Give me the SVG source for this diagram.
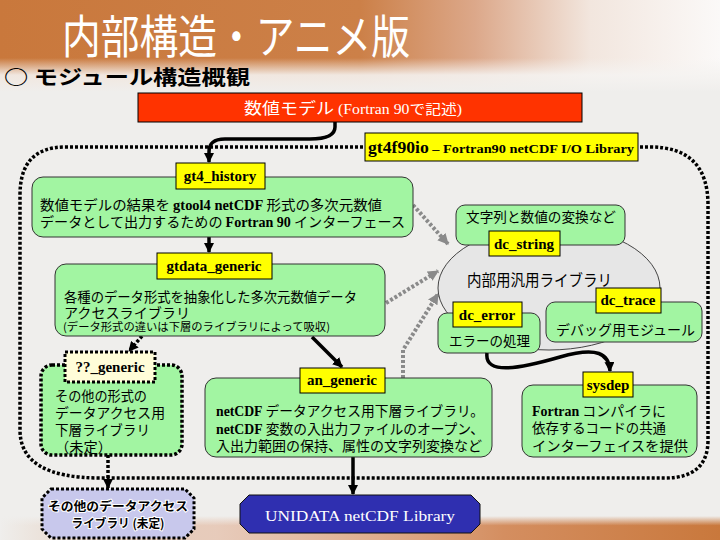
<svg xmlns="http://www.w3.org/2000/svg" width="720" height="540" viewBox="0 0 720 540">
<defs>
<linearGradient id="hdr" x1="0" y1="0" x2="1" y2="0">
<stop offset="0" stop-color="#c9783c"/>
<stop offset="0.5" stop-color="#cc8048"/>
<stop offset="0.66" stop-color="#dca88a"/>
<stop offset="0.82" stop-color="#f2e6de"/>
<stop offset="1" stop-color="#fbf9f8"/>
</linearGradient>
<linearGradient id="hdrfade" x1="0" y1="0" x2="0" y2="1">
<stop offset="0" stop-color="#f5f3f1" stop-opacity="0"/>
<stop offset="0.5" stop-color="#f5f3f1" stop-opacity="0.9"/>
<stop offset="1" stop-color="#efeeec" stop-opacity="1"/>
</linearGradient>
<linearGradient id="ftr" x1="0" y1="0" x2="1" y2="0">
<stop offset="0" stop-color="#cc8048" stop-opacity="0"/>
<stop offset="0.3" stop-color="#e2b49a" stop-opacity="0.6"/>
<stop offset="0.7" stop-color="#d48e60"/>
<stop offset="1" stop-color="#c9783c"/>
</linearGradient>
<linearGradient id="ftrfade" x1="0" y1="0" x2="0" y2="1">
<stop offset="0" stop-color="#efeeec" stop-opacity="1"/>
<stop offset="0.4" stop-color="#efeeec" stop-opacity="0"/>
</linearGradient>
<marker id="ab" viewBox="0 0 10 10" refX="9" refY="5" markerWidth="10" markerHeight="10" markerUnits="userSpaceOnUse" orient="auto">
<path d="M0,0 L10,5 L0,10 z" fill="#000"/>
</marker>
<marker id="ag" viewBox="0 0 10 10" refX="9" refY="5" markerWidth="11" markerHeight="11" markerUnits="userSpaceOnUse" orient="auto">
<path d="M0,0 L10,5 L0,10 z" fill="#8a8a8a"/>
</marker>
</defs>
<style>
.jp{font-family:"Noto Sans CJK JP","Noto Sans CJK SC",sans-serif;}
.lat{font-family:"Liberation Serif","Times New Roman",serif;font-weight:bold;}
.box{fill:#a2f5a2;stroke:#333;stroke-width:1;}
.lbl{fill:#ffff00;stroke:#000;stroke-width:1;}
.lt{font-family:"Liberation Serif",serif;font-weight:bold;font-size:15px;text-anchor:middle;fill:#000;}
.t{font-size:14px;fill:#000;}
.thick{fill:none;stroke:#000;stroke-width:3.5;}
.dot{fill:none;stroke:#000;stroke-width:3.5;stroke-dasharray:3 2;}
.grey{fill:none;stroke:#8a8a8a;stroke-width:4;stroke-dasharray:3 2;}
</style>
<rect x="0" y="0" width="720" height="540" fill="#efeeec"/>
<rect x="0" y="0" width="720" height="92" fill="url(#hdr)"/>
<rect x="0" y="58" width="720" height="34" fill="url(#hdrfade)"/>
<rect x="0" y="516" width="720" height="24" fill="url(#ftr)"/>
<rect x="0" y="516" width="720" height="24" fill="url(#ftrfade)"/>
<text class="jp" x="62" y="53" font-size="46" fill="#fff" textLength="348" lengthAdjust="spacingAndGlyphs">内部構造・アニメ版</text>
<text class="jp" x="4" y="85" font-size="20" font-weight="bold" fill="#000" textLength="246" lengthAdjust="spacingAndGlyphs">○ モジュール構造概観</text>

<g id="boundary">
<path class="dot" d="M65,147 H650 Q708,147 708,205 V440 Q708,478 665,478 H100 Q20,478 20,430 V195 Q20,147 65,147 Z"/>
</g>

<g id="connectors">
<path class="thick" d="M335,122 L335,127 C335,136 326,139 310,139 L225,139 C212,139 209,145 209,152 L209,162" marker-end="url(#ab)"/>
<path class="thick" d="M209,237 L209,252" marker-end="url(#ab)"/>
<path class="dot" d="M142,336 L129,351" marker-end="url(#ab)"/>
<path class="thick" d="M312,337 L342,367" marker-end="url(#ab)"/>
<path class="thick" d="M353,457 L353,494" marker-end="url(#ab)"/>
<path class="dot" d="M108,455 L108,488" marker-end="url(#ab)"/>
<path class="grey" d="M413,205 L448,244" marker-end="url(#ag)"/>
<path class="grey" d="M386,303 L438,271" marker-end="url(#ag)"/>
<path class="grey" d="M403,378 L403,350 L438,294" marker-end="url(#ag)"/>
</g>

<g id="model">
<rect x="138" y="93" width="444" height="29" fill="#ff3300" stroke="#000" stroke-width="1"/>
<text x="353" y="114" text-anchor="middle" fill="#fff" textLength="218" lengthAdjust="spacingAndGlyphs"><tspan class="jp" font-size="16">数値モデル</tspan><tspan font-family="Liberation Serif, serif" font-size="14"> (Fortran 90</tspan><tspan class="jp" font-size="14">で記述</tspan><tspan font-family="Liberation Serif, serif" font-size="14">)</tspan></text>
</g>

<g id="gt4f90io">
<rect class="lbl" x="365" y="133" width="273" height="28"/>
<text class="lat" x="368" y="153" textLength="266" lengthAdjust="spacingAndGlyphs"><tspan font-size="16">gt4f90io</tspan><tspan font-size="13"> – Fortran90 netCDF I/O Library</tspan></text>
</g>

<g id="gt4_history">
<rect class="box" x="32" y="177" width="381" height="60" rx="11"/>
<rect class="lbl" x="176" y="163" width="89" height="26"/>
<text class="lt" x="220" y="181">gt4_history</text>
<text class="t jp" x="40" y="210" textLength="342" lengthAdjust="spacingAndGlyphs">数値モデルの結果を <tspan class="lat">gtool4 netCDF</tspan> 形式の多次元数値</text>
<text class="t jp" x="40" y="227" textLength="365" lengthAdjust="spacingAndGlyphs">データとして出力するための <tspan class="lat">Fortran 90</tspan> インターフェース</text>
</g>

<g id="internal">
<ellipse cx="549" cy="288" rx="111" ry="62" fill="#e6e6e6" stroke="#444" stroke-width="1"/>
<text class="jp" x="467" y="286" font-size="16" textLength="145" lengthAdjust="spacingAndGlyphs">内部用汎用ライブラリ</text>
</g>

<g id="dc_string">
<rect class="box" x="456" y="205" width="169" height="40" rx="9"/>
<text class="t jp" x="466" y="222" textLength="150" lengthAdjust="spacingAndGlyphs">文字列と数値の変換など</text>
<rect class="lbl" x="489" y="231" width="71" height="25"/>
<text class="lt" x="524" y="249" font-size="14">dc_string</text>
</g>

<g id="dc_trace">
<rect class="box" x="546" y="302" width="156" height="40" rx="9"/>
<rect class="lbl" x="596" y="288" width="65" height="25"/>
<text class="lt" x="628" y="305" font-size="14">dc_trace</text>
<text class="t jp" x="556" y="335" textLength="139" lengthAdjust="spacingAndGlyphs">デバッグ用モジュール</text>
</g>

<g id="dc_error">
<rect class="box" x="438" y="313" width="102" height="40" rx="9"/>
<rect class="lbl" x="453" y="302" width="69" height="25"/>
<text class="lt" x="487" y="320" font-size="14">dc_error</text>
<text class="t jp" x="449" y="346" textLength="81" lengthAdjust="spacingAndGlyphs">エラーの処理</text>
</g>

<g id="dc_link">
<path class="thick" d="M487,353 C484,376 522,368 560,357 C598,346 609,354 610,371" marker-end="url(#ab)"/>
</g>

<g id="gtdata_generic">
<rect class="box" x="55" y="264" width="330" height="72" rx="11"/>
<rect class="lbl" x="157" y="253" width="115" height="26"/>
<text class="lt" x="214" y="271">gtdata_generic</text>
<text class="t jp" x="64" y="302" textLength="293" lengthAdjust="spacingAndGlyphs">各種のデータ形式を抽象化した多次元数値データ</text>
<text class="t jp" x="64" y="318" textLength="126" lengthAdjust="spacingAndGlyphs">アクセスライブラリ</text>
<text class="jp" x="63" y="331" font-size="11" textLength="267" lengthAdjust="spacingAndGlyphs">(データ形式の違いは下層のライブラリによって吸収)</text>
</g>

<g id="other_generic">
<rect class="dot" x="41" y="365" width="141" height="90" rx="11" style="fill:#a2f5a2"/>
<rect x="65" y="352" width="90" height="30" fill="#fffdd8" stroke="#000" stroke-width="3" stroke-dasharray="3 2"/>
<text class="lt" x="110" y="372">??_generic</text>
<text class="t jp" x="55" y="401" textLength="92" lengthAdjust="spacingAndGlyphs">その他の形式の</text>
<text class="t jp" x="55" y="418" textLength="110" lengthAdjust="spacingAndGlyphs">データアクセス用</text>
<text class="t jp" x="55" y="435" textLength="95" lengthAdjust="spacingAndGlyphs">下層ライブラリ</text>
<text class="t jp" x="55" y="452" textLength="57" lengthAdjust="spacingAndGlyphs">（未定）</text>
</g>

<g id="an_generic">
<rect class="box" x="205" y="378" width="287" height="79" rx="11"/>
<rect class="lbl" x="300" y="368" width="85" height="25"/>
<text class="lt" x="342" y="385">an_generic</text>
<text class="t jp" x="216" y="416" textLength="268" lengthAdjust="spacingAndGlyphs"><tspan class="lat">netCDF</tspan> データアクセス用下層ライブラリ。</text>
<text class="t jp" x="216" y="434" textLength="268" lengthAdjust="spacingAndGlyphs"><tspan class="lat">netCDF</tspan> 変数の入出力ファイルのオープン、</text>
<text class="t jp" x="216" y="451" textLength="266" lengthAdjust="spacingAndGlyphs">入出力範囲の保持、属性の文字列変換など</text>
</g>

<g id="sysdep">
<rect class="box" x="522" y="385" width="175" height="72" rx="11"/>
<rect class="lbl" x="583" y="372" width="50" height="25"/>
<text class="lt" x="608" y="390">sysdep</text>
<text class="t jp" x="532" y="416" textLength="134" lengthAdjust="spacingAndGlyphs"><tspan class="lat">Fortran</tspan> コンパイラに</text>
<text class="t jp" x="532" y="433" textLength="134" lengthAdjust="spacingAndGlyphs">依存するコードの共通</text>
<text class="t jp" x="532" y="451" textLength="156" lengthAdjust="spacingAndGlyphs">インターフェイスを提供</text>
</g>

<g id="other_lib">
<polygon points="51,489 185,489 194,498 194,529 185,538 51,538 42,529 42,498" fill="#c8c8ec" stroke="#000" stroke-width="3" stroke-dasharray="3 2"/>
<text class="jp" x="118" y="511" font-size="12" font-weight="bold" text-anchor="middle" fill="#000" stroke="#fff" stroke-width="2" paint-order="stroke" textLength="140" lengthAdjust="spacingAndGlyphs">その他のデータアクセス</text>
<text class="jp" x="118" y="528" font-size="12" font-weight="bold" text-anchor="middle" fill="#000" stroke="#fff" stroke-width="2" paint-order="stroke" textLength="93" lengthAdjust="spacingAndGlyphs">ライブラリ (未定)</text>
</g>

<g id="unidata">
<polygon points="249,495 471,495 480,504 480,524 471,533 249,533 240,524 240,504" fill="#2f2fb0" stroke="#111" stroke-width="1"/>
<text x="360" y="521" font-family="Liberation Serif, serif" font-size="15" fill="#fff" text-anchor="middle" textLength="190" lengthAdjust="spacingAndGlyphs">UNIDATA netCDF Library</text>
</g>
</svg>
